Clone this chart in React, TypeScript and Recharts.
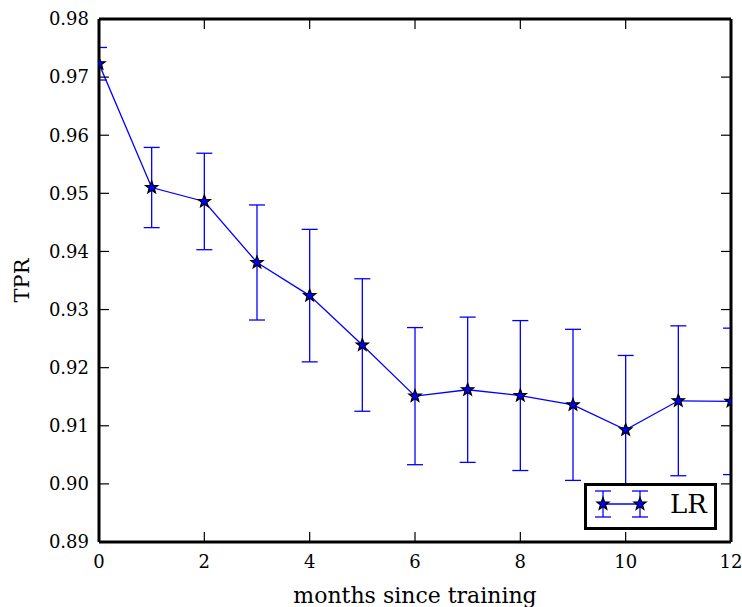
import { ComposedChart, Line, XAxis, YAxis, ErrorBar, Legend, Label } from "recharts";

const months = [0, 1, 2, 3, 4, 5, 6, 7, 8, 9, 10, 11, 12];
const tpr = [0.9723, 0.951, 0.9486, 0.9381, 0.9324, 0.9239, 0.9151, 0.9162, 0.9152, 0.9136, 0.9093, 0.9143, 0.9142];
const tprErr = [0.0028, 0.0069, 0.0083, 0.0099, 0.0114, 0.0114, 0.0118, 0.0125, 0.0129, 0.013, 0.0128, 0.0129, 0.0126];
const xTicks = [0, 2, 4, 6, 8, 10, 12];
const yTicks = [0.89, 0.9, 0.91, 0.92, 0.93, 0.94, 0.95, 0.96, 0.97, 0.98];

const data = months.map((m, i) => ({ month: m, tpr: tpr[i], err: tprErr[i] }));

const font = "DejaVu Serif";
const blue = "#0000ff";
const TICK_LEN = 10;

// chart box
const W = 742;
const H = 607;
const MARGIN = { top: 18, right: 10, bottom: 0, left: 0 };
const Y_AXIS_W = 99;
const X_AXIS_H = 65;
const plotClip = {
  x: MARGIN.left + Y_AXIS_W,
  y: MARGIN.top + 1,
  width: W - MARGIN.left - Y_AXIS_W - MARGIN.right - 1,
  height: H - MARGIN.top - 1 - X_AXIS_H - MARGIN.bottom,
};

function starPoints(cx: number, cy: number, r: number) {
  const pts: string[] = [];
  for (let i = 0; i < 10; i++) {
    const rad = i % 2 === 0 ? r : r * 0.42;
    const a = -Math.PI / 2 + (i * Math.PI) / 5;
    pts.push(`${cx + rad * Math.cos(a)},${cy + rad * Math.sin(a)}`);
  }
  return pts.join(" ");
}

function StarDot(props: any) {
  const { cx, cy, index } = props;
  if (cx == null || cy == null) return null;
  return <polygon key={`s${index}`} points={starPoints(cx, cy, 6.5)} fill={blue} stroke="#000" strokeWidth={1.2} />;
}

function LeftTick({ x, y, payload }: any) {
  return (
    <g>
      <line x1={x + 10} x2={x + 10 + TICK_LEN} y1={y} y2={y} stroke="#000" strokeWidth={1.2} />
      <text x={x} y={y} dy="0.35em" textAnchor="end" fontFamily={font} fontSize={18} fill="#000">
        {Number(payload.value).toFixed(2)}
      </text>
    </g>
  );
}

function BottomTick({ x, y, payload }: any) {
  return (
    <g>
      <line x1={x} x2={x} y1={y - 13} y2={y - 13 - TICK_LEN} stroke="#000" strokeWidth={1.2} />
      <text x={x} y={y} dy="0.71em" textAnchor="middle" fontFamily={font} fontSize={18} fill="#000">
        {payload.value}
      </text>
    </g>
  );
}

function RightTick({ x, y }: any) {
  return <line x1={x} x2={x - TICK_LEN} y1={y} y2={y} stroke="#000" strokeWidth={1.2} />;
}

function TopTick({ x, y }: any) {
  return <line x1={x} x2={x} y1={y} y2={y + TICK_LEN} stroke="#000" strokeWidth={1.2} />;
}

function LegendBox({ payload }: any) {
  const item = (payload || []).find((p: any) => p.value === "LR");
  const name = item ? item.value : "LR";
  return (
    <div style={{ width: 127, height: 41, border: "3px solid #000", background: "#fff" }}>
      <svg width={127} height={41} style={{ display: "block" }}>
        <line x1={16} x2={53} y1={18} y2={18} stroke={blue} strokeWidth={1.3} />
        {[16, 53].map((cx) => (
          <g key={cx}>
            <line x1={cx} x2={cx} y1={5} y2={31} stroke={blue} strokeWidth={1.3} />
            <line x1={cx - 8} x2={cx + 8} y1={5} y2={5} stroke={blue} strokeWidth={1.3} />
            <line x1={cx - 8} x2={cx + 8} y1={31} y2={31} stroke={blue} strokeWidth={1.3} />
            <polygon points={starPoints(cx, 18, 6.5)} fill={blue} stroke="#000" strokeWidth={1.2} />
          </g>
        ))}
        <text x={83} y={18} dy="0.36em" fontFamily={font} fontSize={26} fill="#000">
          {name}
        </text>
      </svg>
    </div>
  );
}

export default function App() {
  return (
    <div style={{ position: "absolute", left: 0, top: 0, width: W, height: H, background: "#fff" }}>
      <style>{`.recharts-line, .recharts-errorBars, .recharts-line-dots { clip-path: url(#plot-area-clip); }`}</style>
      <svg width={0} height={0} style={{ position: "absolute" }}>
        <defs>
          <clipPath id="plot-area-clip" clipPathUnits="userSpaceOnUse">
            <rect x={plotClip.x} y={plotClip.y} width={plotClip.width} height={plotClip.height} />
          </clipPath>
        </defs>
      </svg>
      <ComposedChart width={W} height={H} data={data} margin={MARGIN}>
        <XAxis
          dataKey="month"
          type="number"
          domain={[0, 12]}
          ticks={xTicks}
          allowDataOverflow
          height={X_AXIS_H}
          tickSize={0}
          tickMargin={13}
          tick={<BottomTick />}
          axisLine={{ stroke: "#000", strokeWidth: 3 }}
        >
          <Label
            content={({ viewBox }: any) => (
              <text
                x={viewBox.x + viewBox.width / 2}
                y={viewBox.y + 61}
                textAnchor="middle"
                fontFamily={font}
                fontSize={22}
                fill="#000"
              >
                months since training
              </text>
            )}
          />
        </XAxis>
        <XAxis
          xAxisId="top"
          orientation="top"
          dataKey="month"
          type="number"
          domain={[0, 12]}
          ticks={xTicks}
          allowDataOverflow
          height={1}
          tickSize={0}
          tickMargin={0}
          tick={<TopTick />}
          axisLine={{ stroke: "#000", strokeWidth: 3 }}
        />
        <YAxis
          type="number"
          domain={[0.89, 0.98]}
          ticks={yTicks}
          allowDataOverflow
          width={Y_AXIS_W}
          tickSize={0}
          tickMargin={10}
          tick={<LeftTick />}
          axisLine={{ stroke: "#000", strokeWidth: 3 }}
        >
          <Label
            content={({ viewBox }: any) => {
              const cx = 21;
              const cy = viewBox.y + viewBox.height / 2;
              return (
                <text
                  x={cx}
                  y={cy}
                  transform={`rotate(-90 ${cx} ${cy})`}
                  dy="0.36em"
                  textAnchor="middle"
                  fontFamily={font}
                  fontSize={21}
                  fill="#000"
                >
                  TPR
                </text>
              );
            }}
          />
        </YAxis>
        <YAxis
          yAxisId="right"
          orientation="right"
          type="number"
          domain={[0.89, 0.98]}
          ticks={yTicks}
          allowDataOverflow
          width={1}
          tickSize={0}
          tickMargin={0}
          tick={<RightTick />}
          axisLine={{ stroke: "#000", strokeWidth: 3 }}
        />
        <Line
          xAxisId="top"
          yAxisId="right"
          dataKey="tpr"
          stroke="none"
          dot={false}
          activeDot={false}
          legendType="none"
          isAnimationActive={false}
        />
        <Line
          dataKey="tpr"
          name="LR"
          stroke={blue}
          strokeWidth={1.3}
          dot={<StarDot />}
          activeDot={false}
          isAnimationActive={false}
        >
          <ErrorBar dataKey="err" direction="y" width={8} stroke={blue} strokeWidth={1.3} />
        </Line>
        <Legend
          layout="horizontal"
          verticalAlign="middle"
          align="center"
          content={<LegendBox />}
          wrapperStyle={{ position: "absolute", left: 584, top: 483, width: 133, height: 47 }}
        />
      </ComposedChart>
    </div>
  );
}
